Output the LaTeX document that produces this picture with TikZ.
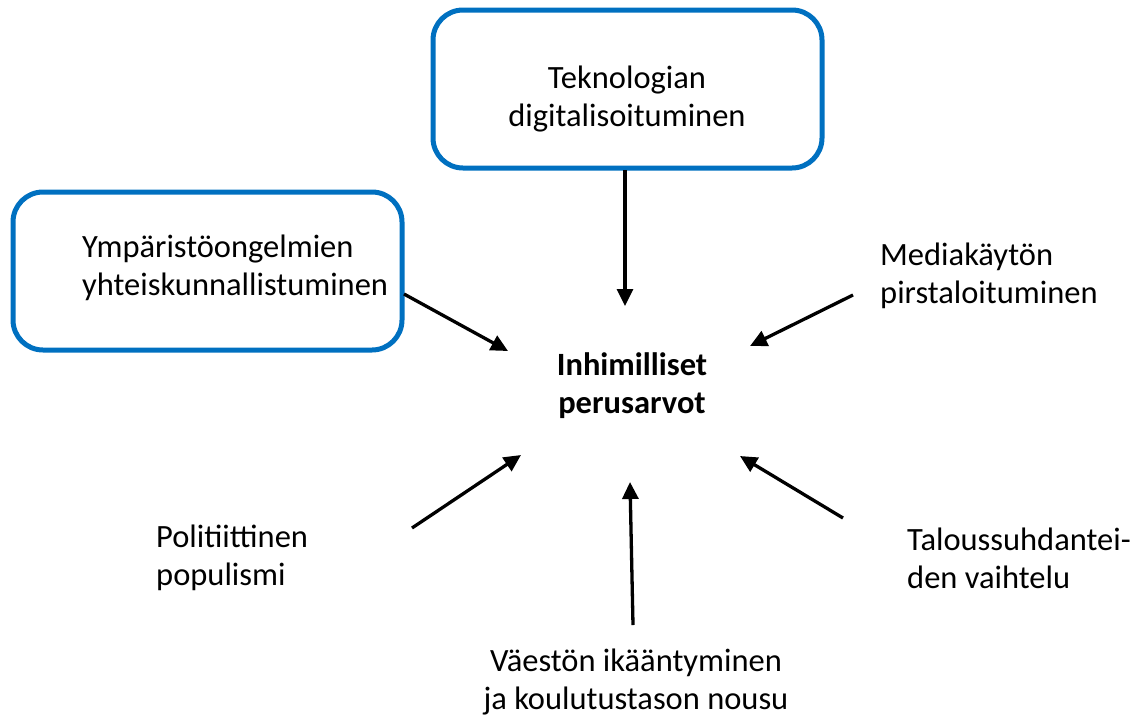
\documentclass[tikz,border=0pt]{standalone}
\usepackage{fontspec}
\setmainfont{Carlito}
\usetikzlibrary{arrows.meta}
\definecolor{boxblue}{HTML}{0070C0}
\tikzset{
  lbl/.style={inner sep=0pt, font=\fontsize{32.5}{38}\selectfont},
  bluebox/.style={draw=boxblue, line width=5pt, rounded corners=30pt, minimum width=389pt, minimum height=158pt},
  arr/.style={line width=3.3pt, -{Triangle[length=17pt,width=16pt]}},
}
\begin{document}
\begin{tikzpicture}[x=1pt,y=-1pt]
\useasboundingbox (0,0) rectangle (1132,718);
\node[bluebox] (topbox) at (627.5,89) {};
\node[bluebox] (leftbox) at (207.5,271) {};
\node[lbl, align=center] (tek) at (627,99) {Teknologian\\digitalisoituminen};
\node[lbl, align=left, anchor=west] (ymp) at (82,268) {Ympäristöongelmien\\yhteiskunnallistuminen};
\node[lbl, align=center, font=\fontsize{32.5}{38}\selectfont\bfseries] (center) at (632,386) {Inhimilliset\\perusarvot};
\node[lbl, align=left, anchor=west] (med) at (880,276) {Mediakäytön\\pirstaloituminen};
\node[lbl, align=left, anchor=west] (pol) at (156,558) {Politiittinen\\populismi};
\node[lbl, align=left, anchor=west] (tal) at (907,558) {Taloussuhdantei-\\den vaihtelu};
\node[lbl, align=center] (vae) at (636,682) {Väestön ikääntyminen\\ja koulutustason nousu};
\coordinate (a1s) at (625,170);
\coordinate (a1e) at (625,306);
\coordinate (a2s) at (404,294);
\coordinate (a2e) at (508,351);
\coordinate (a3s) at (853,295);
\coordinate (a3e) at (750,346);
\coordinate (a4s) at (412,528);
\coordinate (a4e) at (521,455);
\coordinate (a5s) at (633,625);
\coordinate (a5e) at (630,482);
\coordinate (a6s) at (843,518);
\coordinate (a6e) at (740,456);
\draw[arr] (a1s) -- (a1e);
\draw[arr] (a2s) -- (a2e);
\draw[arr] (a3s) -- (a3e);
\draw[arr] (a4s) -- (a4e);
\draw[arr] (a5s) -- (a5e);
\draw[arr] (a6s) -- (a6e);
\end{tikzpicture}
\end{document}
